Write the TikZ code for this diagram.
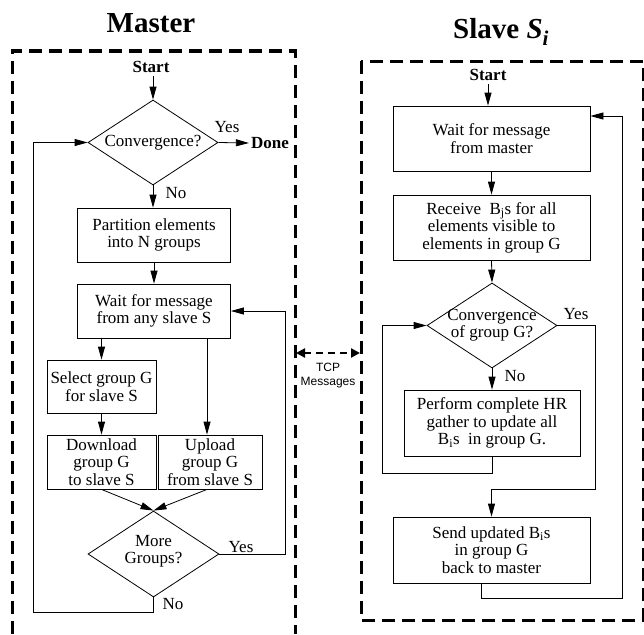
\documentclass[tikz,border=0pt]{standalone}
\usepackage{fontspec}
\setmainfont{Liberation Serif}
\newfontfamily\tcpfont{Liberation Sans}
\usetikzlibrary{shapes.geometric,arrows.meta}
\begin{document}
\begin{tikzpicture}[x=1pt,y=-1pt,
  every node/.style={font=\fontsize{17}{17.5}\selectfont, inner sep=0pt},
  boldtxt/.style={font=\fontsize{17}{17.5}\selectfont\bfseries},
  titletxt/.style={font=\fontsize{29}{29}\selectfont\bfseries},
  box/.style={draw, line width=0.8pt, align=center},
  dia/.style={draw, diamond, line width=0.8pt, minimum width=130pt, minimum height=85pt},
  arr/.style={line width=0.8pt, -{Triangle[length=13pt,width=7pt]}},
  frame/.style={line width=3pt, dash pattern=on 13pt off 7pt},
  tcp/.style={line width=2.5pt, dash pattern=on 7pt off 5pt,
    {Triangle[length=9pt,width=9pt]}-{Triangle[length=9pt,width=9pt]}},
  tcptxt/.style={font=\tcpfont\fontsize{12}{12}\selectfont}]
\useasboundingbox (0,0) rectangle (644,634);

% ---------------- Master ----------------
\node[titletxt, anchor=base] (mtitle) at (151,33) {Master};
\draw[frame] (12,634) -- (12,51) -- (295,51) -- (295,634);
\node[boldtxt, inner sep=3pt] (mstart) at (151,67) {Start};
\node[dia] (mconv) at (153,142.5) {};
\node (mconvt) at (153,143) {Convergence?};
\node (myes1) at (227,127) {Yes};
\node[boldtxt, inner sep=2pt] (mdone) at (270,143) {Done};
\node (mno1) at (176,193) {No};
\node[box, minimum width=153pt, minimum height=54pt] (mpart) at (154,235) {Partition elements\\into N groups};
\node[box, minimum width=153pt, minimum height=54pt] (mwait) at (154,311) {Wait for message\\from any slave S};
\node[box, minimum width=109pt, minimum height=53pt] (msel) at (101.5,386.5) {Select group G\\for slave S};
\node[box, minimum width=109pt, minimum height=54pt] (mdown) at (101.5,462) {Download\\group G\\to slave S};
\node[box, minimum width=104pt, minimum height=54pt] (mup) at (210,462) {Upload\\group G\\from slave S};
\node[dia, minimum width=131pt, minimum height=86pt] (mmore) at (153.5,554) {};
\node[align=center] (mmoret) at (153.5,551) {More\\Groups?};
\node (myes2) at (241,547) {Yes};
\node (mno2) at (173,604) {No};

\draw[arr] (mstart.south -| mconv.north) -- (mconv.north);
\draw[arr] (mconv.east) -- (mdone.west);
\draw[arr] (mconv.south) -- (mconv.south |- mpart.north);
\draw[arr] (mpart.south) -- (mwait.north);
\draw[arr] (msel.north |- mwait.south) -- (msel.north);
\coordinate (upin) at ([xshift=-3pt]mup.north);
\draw[arr] (upin |- mwait.south) -- (upin);
\draw[arr] (msel.south) -- (mdown.north);
\draw[arr] (mdown.south) -- (mmore.north);
\draw[arr] ([xshift=-3pt]mup.south) -- (mmore.north);
\draw[arr] (mmore.east) -- ++(66,0) |- (mwait.east);
\coordinate (mloop) at (33,612);
\draw[arr] (mmore.south) |- (mloop) |- (mconv.west);

% ---------------- Slave ----------------
\node[titletxt, anchor=base west] (stitle) at (453,39) {Slave \textit{S}\raisebox{-6pt}{\fontsize{21}{21}\selectfont\textit{i}}};
\draw[frame] (361,61) rectangle (643,620);
\node[boldtxt, inner sep=3pt] (sstart) at (488,75) {Start};
\node[box, minimum width=197pt, minimum height=65pt] (swait) at (491.5,138.5) {Wait for message\\from master};
\node[box, minimum width=197pt, minimum height=65pt] (srecv) at (491.5,227.5) {Receive~~B\textsubscript{j}s for all\\elements visible to\\elements in group G};
\node[dia] (sconv) at (492,325.5) {};
\node[align=center] (sconvt) at (492,325) {Convergence\\of group G?};
\node (syes1) at (576,314) {Yes};
\node (sno1) at (515,376) {No};
\node[box, minimum width=176pt, minimum height=66pt] (sperf) at (492,423) {Perform complete HR\\gather to update all\\B\textsubscript{i}s~~in group G.};
\node[box, minimum width=197pt, minimum height=66pt] (ssend) at (491.5,550) {Send updated B\textsubscript{i}s\\in group G\\back to master};

\draw[arr] (sstart.south) -- (sstart.south |- swait.north);
\draw[arr] (swait.south) -- (srecv.north);
\draw[arr] (srecv.south) -- (sconv.north);
\draw[arr] (sconv.south) -- (sperf.north);
\coordinate (sloop) at (382,473);
\draw[arr] (sperf.south) |- (sloop) |- (sconv.west);
\coordinate (syes) at (595,489);
\draw[arr] (sconv.east) -| (syes) -| (ssend.north);
\coordinate (sback) at (622,598);
\coordinate (sout) at ([xshift=-10.5pt]ssend.south);
\draw[arr] (sout) |- (sback) |- ([yshift=22.5pt]swait.east);

% ---------------- TCP ----------------
\coordinate (tcpL) at (296,353);
\coordinate (tcpR) at (360,353);
\draw[tcp] (tcpL) -- (tcpR);
\node[tcptxt] (tcp1) at (328,367) {TCP};
\node[tcptxt] (tcp2) at (328,383) {Messages};
\end{tikzpicture}
\end{document}
